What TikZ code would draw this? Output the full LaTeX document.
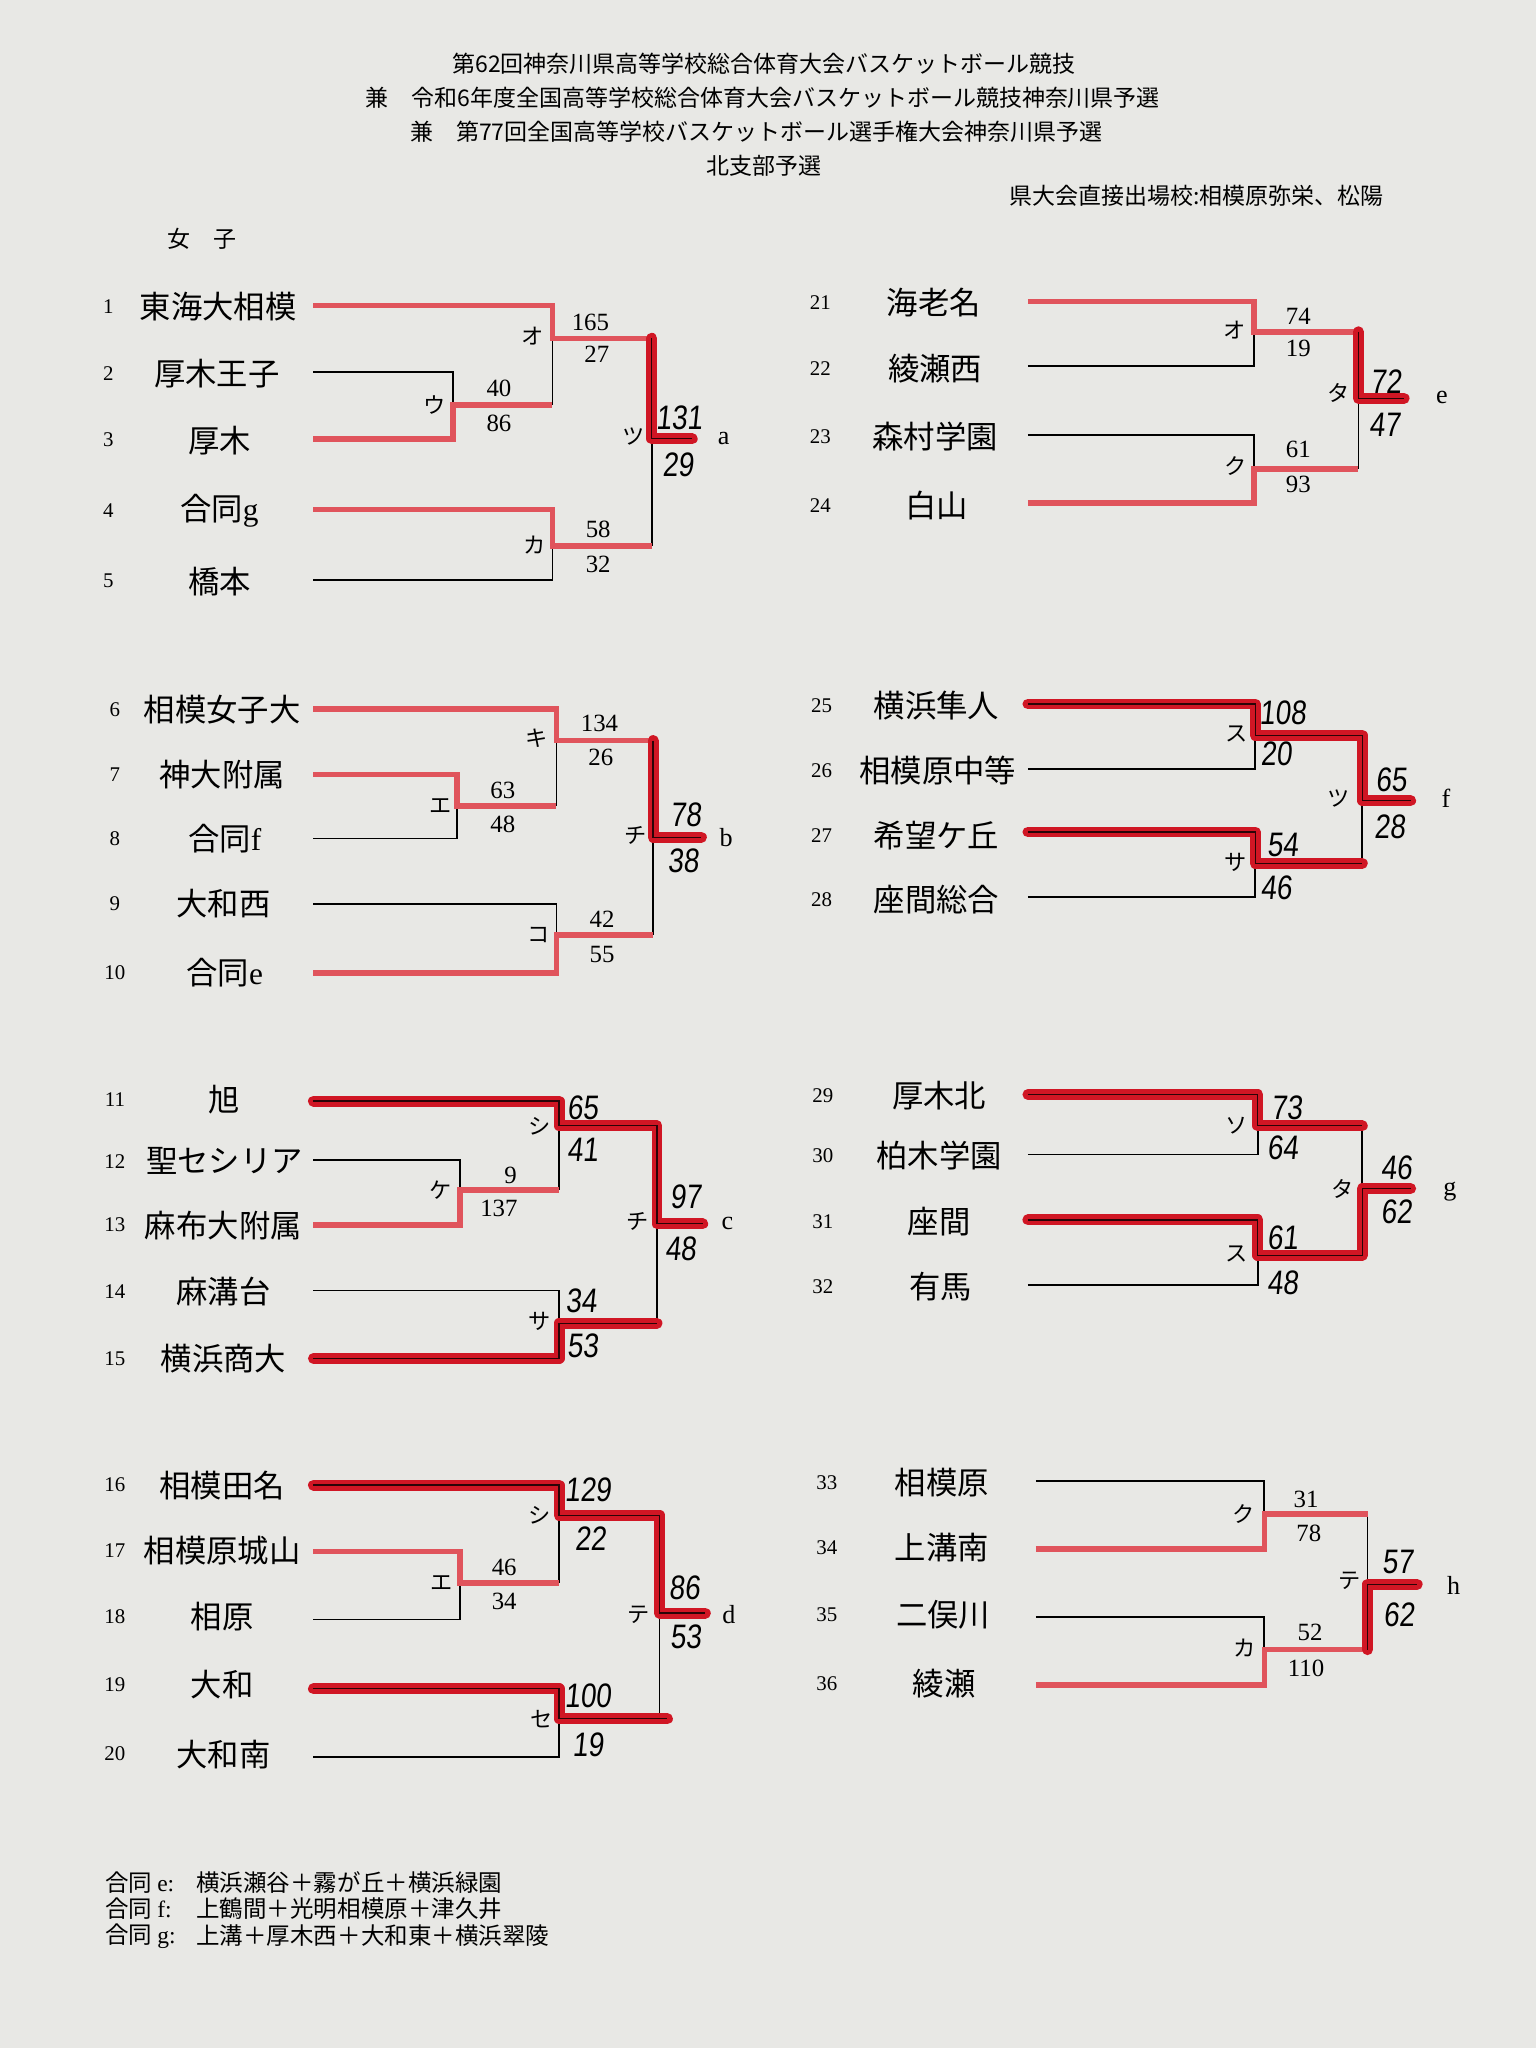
\documentclass[tikz,border=0pt]{standalone}
\usepackage{fontspec}
\setmainfont{Liberation Serif}
\newfontfamily\jp{Noto Sans CJK JP}
\newfontfamily\hwf[FakeSlant=0.1,FakeStretch=0.82]{Liberation Sans}
\definecolor{bg}{RGB}{232,232,229}
\definecolor{prd}{RGB}{224,84,92}
\definecolor{mrk}{RGB}{208,22,36}
\tikzset{
 blk/.style={line width=0.65pt, black},
 prt/.style={line width=2.1pt, prd},
 mkr/.style={draw=black!80!mrk, line width=0.45pt, preaction={draw=mrk, line width=4.2pt, line cap=round, line join=round}},
 tm/.style={font={\jp\fontsize{12pt}{14pt}\selectfont}, inner sep=0pt},
 num/.style={font={\fontsize{8pt}{9pt}\selectfont}, inner sep=0pt},
 sc/.style={font={\fontsize{9.5pt}{10pt}\selectfont}, inner sep=0pt},
 hs/.style={font={\hwf\fontsize{13pt}{14pt}\selectfont}, inner sep=0pt},
 rl/.style={font={\jp\fontsize{8.5pt}{9pt}\selectfont}, inner sep=0pt},
 lt/.style={font={\fontsize{10pt}{11pt}\selectfont}, inner sep=0pt},
 hd/.style={font={\jp\fontsize{8.8pt}{10pt}\selectfont}, inner sep=0pt},
 ft/.style={font={\jp\fontsize{9pt}{10pt}\selectfont}, inner sep=0pt, anchor=west},
}
\newcommand\tmrow[5]{\node[num] (n#1) at (#2,#3) {#1}; \node[tm] (t#1) at (#4,#3) {#5};}
\begin{document}
\begin{tikzpicture}[x=0.5pt,y=-0.5pt]
\fill[bg] (0,0) rectangle (1176,1568);
\useasboundingbox (0,0) rectangle (1176,1568);

% header
\node[hd] (h1) at (585,49) {第62回神奈川県高等学校総合体育大会バスケットボール競技};
\node[hd] (h2) at (584,75) {兼　令和6年度全国高等学校総合体育大会バスケットボール競技神奈川県予選};
\node[hd] (h3) at (579,101) {兼　第77回全国高等学校バスケットボール選手権大会神奈川県予選};
\node[hd] (h4) at (585,127) {北支部予選};
\node[hd] (h5) at (916,150) {県大会直接出場校:相模原弥栄、松陽};
\node[hd] (h6) at (155,183) {女　子};

% teams
\tmrow{1}{83}{235}{167}{東海大相模}
\tmrow{2}{83}{286}{166}{厚木王子}
\tmrow{3}{83}{337}{168}{厚木}
\tmrow{4}{83}{391}{168}{合同{\rmfamily g}}
\tmrow{5}{83}{445}{168}{橋本}
\tmrow{6}{88}{543}{170}{相模女子大}
\tmrow{7}{88}{593}{170}{神大附属}
\tmrow{8}{88}{642}{172}{合同{\rmfamily f}}
\tmrow{9}{88}{692}{171}{大和西}
\tmrow{10}{88}{745}{172}{合同{\rmfamily e}}
\tmrow{11}{88}{842}{172}{旭}
\tmrow{12}{88}{889}{172}{聖セシリア}
\tmrow{13}{88}{938}{171}{麻布大附属}
\tmrow{14}{88}{989}{171}{麻溝台}
\tmrow{15}{88}{1040}{171}{横浜商大}
\tmrow{16}{88}{1137}{170}{相模田名}
\tmrow{17}{88}{1187}{170}{相模原城山}
\tmrow{18}{88}{1238}{170}{相原}
\tmrow{19}{88}{1290}{170}{大和}
\tmrow{20}{88}{1343}{171}{大和南}
\tmrow{21}{628}{232}{715}{海老名}
\tmrow{22}{628}{282}{716}{綾瀬西}
\tmrow{23}{628}{334}{716}{森村学園}
\tmrow{24}{628}{387}{717}{白山}
\tmrow{25}{629}{540}{717}{横浜隼人}
\tmrow{26}{629}{590}{718}{相模原中等}
\tmrow{27}{629}{640}{717}{希望ケ丘}
\tmrow{28}{629}{689}{717}{座間総合}
\tmrow{29}{630}{839}{719}{厚木北}
\tmrow{30}{630}{885}{719}{柏木学園}
\tmrow{31}{630}{935}{719}{座間}
\tmrow{32}{630}{985}{720}{有馬}
\tmrow{33}{633}{1135}{721}{相模原}
\tmrow{34}{633}{1185}{721}{上溝南}
\tmrow{35}{633}{1236}{722}{二俣川}
\tmrow{36}{633}{1289}{723}{綾瀬}

% coordinates
\coordinate (s1) at (240,234); \coordinate (s2) at (240,285); \coordinate (s3) at (240,336);
\coordinate (s4) at (240,390); \coordinate (s5) at (240,444);
\coordinate (jAu) at (347,310); \coordinate (jAo) at (423,259); \coordinate (jAk) at (423,418);
\coordinate (jAt) at (499,336); \coordinate (ea) at (530,336);

\coordinate (s6) at (240,543); \coordinate (s7) at (240,593); \coordinate (s8) at (240,642);
\coordinate (s9) at (240,692); \coordinate (s10) at (240,745);
\coordinate (jBe) at (350,617); \coordinate (jBk) at (426,567); \coordinate (jBc) at (426,716);
\coordinate (jBt) at (500,641); \coordinate (eb) at (537,641);

\coordinate (s11) at (240,843); \coordinate (s12) at (240,888); \coordinate (s13) at (240,938);
\coordinate (s14) at (240,988); \coordinate (s15) at (240,1040);
\coordinate (jCk) at (352,911); \coordinate (jCs) at (428,862); \coordinate (jCa) at (428,1013);
\coordinate (jCt) at (503,937); \coordinate (ec) at (538,937);

\coordinate (s16) at (240,1137); \coordinate (s17) at (240,1188); \coordinate (s18) at (240,1240);
\coordinate (s19) at (240,1293); \coordinate (s20) at (240,1345);
\coordinate (jDe) at (352,1212); \coordinate (jDs) at (428,1160); \coordinate (jDz) at (428,1316);
\coordinate (jDt) at (505,1235); \coordinate (ed) at (540,1235);

\coordinate (s21) at (787,231); \coordinate (s22) at (787,280); \coordinate (s23) at (787,333);
\coordinate (s24) at (787,385);
\coordinate (jEo) at (960,254); \coordinate (jEk) at (960,359); \coordinate (jEt) at (1040,305);
\coordinate (ee) at (1075,305);

\coordinate (s25) at (787,539); \coordinate (s26) at (787,589); \coordinate (s27) at (787,637);
\coordinate (s28) at (787,687);
\coordinate (jFs) at (961,563); \coordinate (jFa) at (961,661); \coordinate (jFt) at (1043,613);
\coordinate (ef) at (1080,613);

\coordinate (s29) at (787,838); \coordinate (s30) at (787,884); \coordinate (s31) at (787,934);
\coordinate (s32) at (787,984);
\coordinate (jGs) at (963,862); \coordinate (jGu) at (963,961); \coordinate (jGt) at (1043,910);
\coordinate (eg) at (1080,910);

\coordinate (s33) at (793,1134); \coordinate (s34) at (793,1186); \coordinate (s35) at (793,1238);
\coordinate (s36) at (793,1290);
\coordinate (jHk) at (968,1159); \coordinate (jHa) at (968,1263); \coordinate (jHt) at (1047,1213);
\coordinate (eh) at (1085,1213);

% black lines
\draw[blk] (s2) -| (jAu);
\draw[blk] (jAu -| jAo) -- (jAo);
\draw[blk] (jAt) -- (jAk -| jAt);
\draw[blk] (s5) -| (jAk);

\draw[blk] (s8) -| (jBe);
\draw[blk] (jBe -| jBk) -- (jBk);
\draw[blk] (s9) -| (jBc);
\draw[blk] (jBt) -- (jBc -| jBt);

\draw[blk] (s12) -| (jCk);
\draw[blk] (jCk -| jCs) -- (jCs);
\draw[blk] (s14) -| (jCa);
\draw[blk] (jCt) -- (jCa -| jCt);

\draw[blk] (s18) -| (jDe);
\draw[blk] (jDe -| jDs) -- (jDs);
\draw[blk] (s20) -| (jDz);
\draw[blk] (jDt) -- (jDz -| jDt);

\draw[blk] (s22) -| (jEo);
\draw[blk] (s23) -| (jEk);
\draw[blk] (jEt) -- (jEk -| jEt);

\draw[blk] (s26) -| (jFs);
\draw[blk] (s28) -| (jFa);
\draw[blk] (jFt) -- (jFa -| jFt);

\draw[blk] (s30) -| (jGs);
\draw[blk] (s32) -| (jGu);
\draw[blk] (jGs -| jGt) -- (jGt);

\draw[blk] (s33) -| (jHk);
\draw[blk] (s35) -| (jHa);
\draw[blk] (jHk -| jHt) -- (jHt);

% printed red
\draw[prt] (s3) -| (jAu) -- (jAu -| jAo);
\draw[prt] (s1) -| (jAo) -- (jAo -| jAt);
\draw[prt] (s4) -| (jAk) -- (jAk -| jAt);

\draw[prt] (s7) -| (jBe) -- (jBe -| jBk);
\draw[prt] (s6) -| (jBk) -- (jBk -| jBt);
\draw[prt] (s10) -| (jBc) -- (jBc -| jBt);

\draw[prt] (s13) -| (jCk) -- (jCk -| jCs);
\draw[prt] (s17) -| (jDe) -- (jDe -| jDs);

\draw[prt] (s21) -| (jEo) -- (jEo -| jEt);
\draw[prt] (s24) -| (jEk) -- (jEk -| jEt);

\draw[prt] (s34) -| (jHk) -- (jHk -| jHt);
\draw[prt] (s36) -| (jHa) -- (jHa -| jHt);

% marker
\draw[mkr] (jAo -| jAt) -- (jAt) -- (ea);
\draw[mkr] (jBk -| jBt) -- (jBt) -- (eb);
\draw[mkr] (s11) -| (jCs) -- (jCs -| jCt) -- (jCt) -- (ec);
\draw[mkr] (s15) -| (jCa) -- (jCa -| jCt);
\draw[mkr] (s16) -| (jDs) -- (jDs -| jDt) -- (jDt) -- (ed);
\draw[mkr] (s19) -| (jDz) -- ([xshift=3pt]jDz -| jDt);
\draw[mkr] (jEo -| jEt) -- (jEt) -- (ee);
\draw[mkr] (s25) -| (jFs) -- (jFs -| jFt) -- (jFt) -- (ef);
\draw[mkr] (s27) -| (jFa) -- (jFa -| jFt);
\draw[mkr] (s29) -| (jGs) -- (jGs -| jGt);
\draw[mkr] (s31) -| (jGu) -- (jGu -| jGt) -- (jGt) -- (eg);
\draw[mkr] (jHa -| jHt) -- (jHt) -- (eh);

% round labels
\node[rl] (rA1) at (408,257) {オ}; \node[rl] (rA2) at (333,310) {ウ};
\node[rl] (rA3) at (485,334) {ツ}; \node[rl] (rA4) at (409,417) {カ};
\node[rl] (rB1) at (411,565) {キ}; \node[rl] (rB2) at (337,617) {エ};
\node[rl] (rB3) at (487,640) {チ}; \node[rl] (rB4) at (412,716) {コ};
\node[rl] (rC1) at (413,862) {シ}; \node[rl] (rC2) at (337,911) {ケ};
\node[rl] (rC3) at (488,935) {チ}; \node[rl] (rC4) at (413,1012) {サ};
\node[rl] (rD1) at (413,1160) {シ}; \node[rl] (rD2) at (338,1212) {エ};
\node[rl] (rD3) at (489,1236) {テ}; \node[rl] (rD4) at (415,1316) {セ};
\node[rl] (rE1) at (945,253) {オ}; \node[rl] (rE2) at (946,357) {ク};
\node[rl] (rE3) at (1025,301) {タ};
\node[rl] (rF1) at (947,562) {ス}; \node[rl] (rF2) at (946,660) {サ};
\node[rl] (rF3) at (1025,611) {ツ};
\node[rl] (rG1) at (947,862) {ソ}; \node[rl] (rG2) at (947,960) {ス};
\node[rl] (rG3) at (1028,910) {タ};
\node[rl] (rH1) at (952,1159) {ク}; \node[rl] (rH2) at (953,1262) {カ};
\node[rl] (rH3) at (1033,1210) {テ};

% block letters
\node[lt] (la) at (554,336) {a};
\node[lt] (lb) at (556,641) {b};
\node[lt] (lc) at (557,937) {c};
\node[lt] (ld) at (558,1236) {d};
\node[lt] (le) at (1104,304) {e};
\node[lt] (lf) at (1107,611) {f};
\node[lt] (lg) at (1110,912) {g};
\node[lt] (lh) at (1113,1214) {h};

% scores A
\node[sc] (xA1) at (452,247) {165}; \node[sc] (xA2) at (457,271) {27};
\node[sc] (xA3) at (382,297) {40}; \node[sc] (xA4) at (382,324) {86};
\node[hs] (xA5) at (520,320) {131}; \node[hs] (xA6) at (519,356) {29};
\node[sc] (xA7) at (458,405) {58}; \node[sc] (xA8) at (458,432) {32};
% scores B
\node[sc] (xB1) at (459,554) {134}; \node[sc] (xB2) at (460,580) {26};
\node[sc] (xB3) at (385,605) {63}; \node[sc] (xB4) at (385,631) {48};
\node[hs] (xB5) at (525,624) {78}; \node[hs] (xB6) at (523,659) {38};
\node[sc] (xB7) at (461,704) {42}; \node[sc] (xB8) at (461,731) {55};
% scores C
\node[hs] (xC1) at (446,848) {65}; \node[hs] (xC2) at (446,880) {41};
\node[sc] (xC3) at (391,900) {9}; \node[sc] (xC4) at (382,925) {137};
\node[hs] (xC5) at (525,916) {97}; \node[hs] (xC6) at (521,956) {48};
\node[hs] (xC7) at (445,996) {34}; \node[hs] (xC8) at (446,1030) {53};
% scores D
\node[hs] (xD1) at (450,1141) {129}; \node[hs] (xD2) at (452,1178) {22};
\node[sc] (xD3) at (386,1200) {46}; \node[sc] (xD4) at (386,1226) {34};
\node[hs] (xD5) at (524,1216) {86}; \node[hs] (xD6) at (525,1253) {53};
\node[hs] (xD7) at (450,1298) {100}; \node[hs] (xD8) at (450,1336) {19};
% scores E
\node[sc] (xE1) at (994,242) {74}; \node[sc] (xE2) at (994,267) {19};
\node[sc] (xE3) at (994,344) {61}; \node[sc] (xE4) at (994,371) {93};
\node[hs] (xE5) at (1061,292) {72}; \node[hs] (xE6) at (1060,325) {47};
% scores F
\node[hs] (xF1) at (982,546) {108}; \node[hs] (xF2) at (977,577) {20};
\node[hs] (xF3) at (982,647) {54}; \node[hs] (xF4) at (977,680) {46};
\node[hs] (xF5) at (1065,597) {65}; \node[hs] (xF6) at (1064,633) {28};
% scores G
\node[hs] (xG1) at (985,848) {73}; \node[hs] (xG2) at (982,879) {64};
\node[hs] (xG3) at (982,948) {61}; \node[hs] (xG4) at (982,982) {48};
\node[hs] (xG5) at (1069,894) {46}; \node[hs] (xG6) at (1069,928) {62};
% scores H
\node[sc] (xH1) at (1000,1148) {31}; \node[sc] (xH2) at (1002,1174) {78};
\node[sc] (xH3) at (1003,1250) {52}; \node[sc] (xH4) at (1000,1277) {110};
\node[hs] (xH5) at (1070,1196) {57}; \node[hs] (xH6) at (1071,1236) {62};

% footnotes
\node[ft] (fe1) at (80,1441) {合同 {\rmfamily e:}};
\node[ft] (fe2) at (150,1441) {横浜瀬谷＋霧が丘＋横浜緑園};
\node[ft] (ff1) at (80,1461) {合同 {\rmfamily f:}};
\node[ft] (ff2) at (150,1461) {上鶴間＋光明相模原＋津久井};
\node[ft] (fg1) at (80,1482) {合同 {\rmfamily g:}};
\node[ft] (fg2) at (150,1482) {上溝＋厚木西＋大和東＋横浜翠陵};
\end{tikzpicture}
\end{document}
